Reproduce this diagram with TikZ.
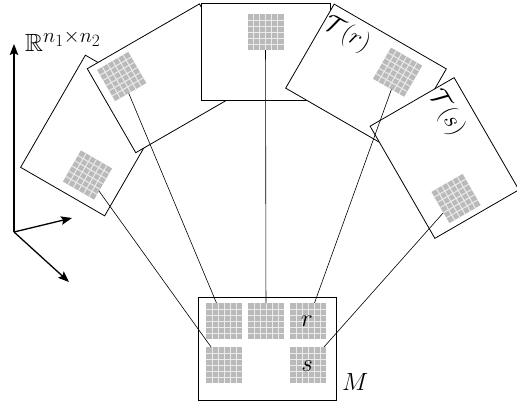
\documentclass[tikz,border=0pt]{standalone}
\usepackage{amssymb}
\usetikzlibrary{arrows.meta}
\newcommand{\gridpatch}[2]{%
  \begin{scope}[shift={(#1)}, rotate=#2]
    \fill[patchfill] (-18,-18) rectangle (18,18);
    \foreach \k in {-12,-6,0,6,12}{%
      \draw[patchline] (\k,-18) -- (\k,18);
      \draw[patchline] (-18,\k) -- (18,\k);}
  \end{scope}}
\begin{document}
\begin{tikzpicture}[x=1pt,y=-1pt,
  frame/.style={draw=black, fill=white, line width=0.8pt, minimum width=129.5pt, minimum height=97pt, inner sep=0pt},
  mbox/.style={draw=black, line width=0.8pt, minimum width=138pt, minimum height=103pt, inner sep=0pt},
  patchfill/.style={fill=black!27},
  patchline/.style={draw=white!92!black, line width=1pt},
  conn/.style={draw=black, line width=0.6pt},
  axis/.style={line width=1.3pt, -{Stealth[length=11pt,width=8.5pt,inset=2pt]}},
  lbl/.style={inner sep=0pt, font=\Huge}]
\useasboundingbox (0,0) rectangle (517,410);
% frames
\node[frame, rotate=60]  (F1) at (95,135.5) {};
\node[frame, rotate=30]  (F2) at (167.6,78.3) {};
\node[frame]             (F3) at (266,51.5) {};
\node[frame, rotate=-30] (F4) at (366,78.5) {};
\node[frame, rotate=-60] (F5) at (444.5,158) {};
% M box
\node[mbox] (M) at (267,348.5) {};
% patch centres
\coordinate (P1) at (87.5,175);
\coordinate (P2) at (121.7,76.5);
\coordinate (P3) at (265.5,32);
\coordinate (P4) at (397.6,72.2);
\coordinate (P5) at (456,198.5);
\coordinate (MTL) at (224,321);
\coordinate (MTM) at (266,321);
\coordinate (MTR) at (308,321);
\coordinate (MBL) at (224,365);
\coordinate (MBR) at (308,365);
% connectors
\draw[conn] (P1) -- (MBL);
\draw[conn] (P2) -- (MTL);
\draw[conn] (P3) -- (MTM);
\draw[conn] (P4) -- (MTR);
\draw[conn] (P5) -- (MBR);
% patches
\gridpatch{P1}{60}
\gridpatch{P2}{30}
\gridpatch{P3}{0}
\gridpatch{P4}{-30}
\gridpatch{P5}{-60}
\gridpatch{MTL}{0}
\gridpatch{MTM}{0}
\gridpatch{MTR}{0}
\gridpatch{MBL}{0}
\gridpatch{MBR}{0}
% labels
\node[lbl, anchor=base] (lr) at (307,326.7) {$r$};
\node[lbl, anchor=base] (ls) at (307,371.5) {$s$};
\node[lbl, anchor=base west] (lM) at (342,390) {$M$};
\node[lbl, rotate=-30] (lTr) at (347,34) {$\mathcal{T}(r)$};
\node[lbl, rotate=-60] (lTs) at (446.5,113) {$\mathcal{T}(s)$};
\node[lbl, anchor=base west] (lR) at (25,51.5) {$\mathbb{R}^{n_1\times n_2}$};
% axes
\coordinate (O) at (14,232);
\coordinate (A1) at (14,44);
\coordinate (A2) at (72,218);
\coordinate (A3) at (69,282);
\draw[axis] (O) -- (A1);
\draw[axis] (O) -- (A2);
\draw[axis] (O) -- (A3);
\end{tikzpicture}
\end{document}
